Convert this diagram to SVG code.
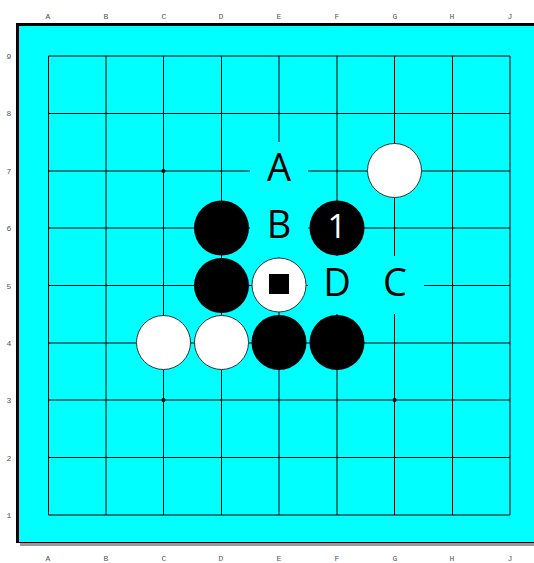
<svg xmlns="http://www.w3.org/2000/svg" width="534" height="563" viewBox="0 0 534 563">
<style>
.coord{font-family:"Liberation Mono",monospace;font-size:8px;fill:#555;text-anchor:middle}
.grid line{stroke:#000;stroke-width:1}
.w{fill:#fff;stroke:#333;stroke-width:1}
.b{fill:#000}
.lbl{font-family:"Open Sans",sans-serif;font-size:38px;fill:#000;text-anchor:middle}
.num{font-family:"Open Sans",sans-serif;font-size:33px;fill:#fff;text-anchor:middle}
.clr{fill:#00ffff}
</style>
<rect x="0" y="0" width="534" height="563" fill="#fff"/>
<g id="board">
<rect x="20" y="543" width="514" height="3" fill="#999"/>
<rect x="16" y="23" width="518" height="520" fill="#000"/>
<rect x="19" y="26" width="515" height="516" fill="#00ffff"/>
</g>
<g id="coords">
<text class="coord" x="48" y="19">A</text><text class="coord" x="106" y="19">B</text><text class="coord" x="164" y="19">C</text><text class="coord" x="221" y="19">D</text><text class="coord" x="279" y="19">E</text><text class="coord" x="337" y="19">F</text><text class="coord" x="395" y="19">G</text><text class="coord" x="452" y="19">H</text><text class="coord" x="510" y="19">J</text>
<text class="coord" x="48" y="561">A</text><text class="coord" x="106" y="561">B</text><text class="coord" x="164" y="561">C</text><text class="coord" x="221" y="561">D</text><text class="coord" x="279" y="561">E</text><text class="coord" x="337" y="561">F</text><text class="coord" x="395" y="561">G</text><text class="coord" x="452" y="561">H</text><text class="coord" x="510" y="561">J</text>
<text class="coord" x="9" y="59">9</text><text class="coord" x="9" y="116">8</text><text class="coord" x="9" y="174">7</text><text class="coord" x="9" y="231">6</text><text class="coord" x="9" y="289">5</text><text class="coord" x="9" y="346">4</text><text class="coord" x="9" y="403">3</text><text class="coord" x="9" y="461">2</text><text class="coord" x="9" y="518">1</text>
</g>
<g id="connectors" class="grid">
<line x1="48.5" y1="56" x2="48.5" y2="515"/><line x1="106" y1="56" x2="106" y2="515"/><line x1="163.5" y1="56" x2="163.5" y2="515"/><line x1="221.5" y1="56" x2="221.5" y2="515"/><line x1="279" y1="56" x2="279" y2="515"/><line x1="337" y1="56" x2="337" y2="515"/><line x1="394.5" y1="56" x2="394.5" y2="515"/><line x1="452.5" y1="56" x2="452.5" y2="515"/><line x1="510" y1="56" x2="510" y2="515"/>
<line x1="48.5" y1="56" x2="510" y2="56"/><line x1="48.5" y1="113.5" x2="510" y2="113.5"/><line x1="48.5" y1="171" x2="510" y2="171"/><line x1="48.5" y1="228" x2="510" y2="228"/><line x1="48.5" y1="285.5" x2="510" y2="285.5"/><line x1="48.5" y1="343" x2="510" y2="343"/><line x1="48.5" y1="400" x2="510" y2="400"/><line x1="48.5" y1="457.5" x2="510" y2="457.5"/><line x1="48.5" y1="515" x2="510" y2="515"/>
<circle cx="163.5" cy="171" r="2" fill="#000"/><circle cx="163.5" cy="400" r="2" fill="#000"/><circle cx="394.5" cy="400" r="2" fill="#000"/>
</g>
<g id="label-A"><rect class="clr" x="250" y="142" width="58" height="58"/><text class="lbl" x="279" y="181">A</text></g>
<g id="label-B"><rect class="clr" x="250" y="199" width="58" height="58"/><text class="lbl" x="279" y="238">B</text></g>
<g id="label-D"><rect class="clr" x="308" y="256" width="58" height="58"/><text class="lbl" x="337" y="296">D</text></g>
<g id="label-C"><rect class="clr" x="366" y="256" width="58" height="58"/><text class="lbl" x="395" y="296">C</text></g>
<g id="stone-G7"><circle class="w" cx="394.5" cy="170.5" r="27"/></g>
<g id="stone-D6"><circle class="b" cx="221.5" cy="228" r="27.5"/></g>
<g id="stone-F6"><circle class="b" cx="337" cy="228" r="27.5"/><text class="num" x="337" y="237.5">1</text></g>
<g id="stone-D5"><circle class="b" cx="221.5" cy="285.5" r="27.5"/></g>
<g id="stone-E5"><circle class="w" cx="279" cy="285" r="27"/><rect x="269" y="274" width="20" height="20" fill="#000"/></g>
<g id="stone-C4"><circle class="w" cx="163.5" cy="342.5" r="27"/></g>
<g id="stone-D4"><circle class="w" cx="221.5" cy="342.5" r="27"/></g>
<g id="stone-E4"><circle class="b" cx="279" cy="342.5" r="27.5"/></g>
<g id="stone-F4"><circle class="b" cx="337" cy="342.5" r="27.5"/></g>
</svg>
